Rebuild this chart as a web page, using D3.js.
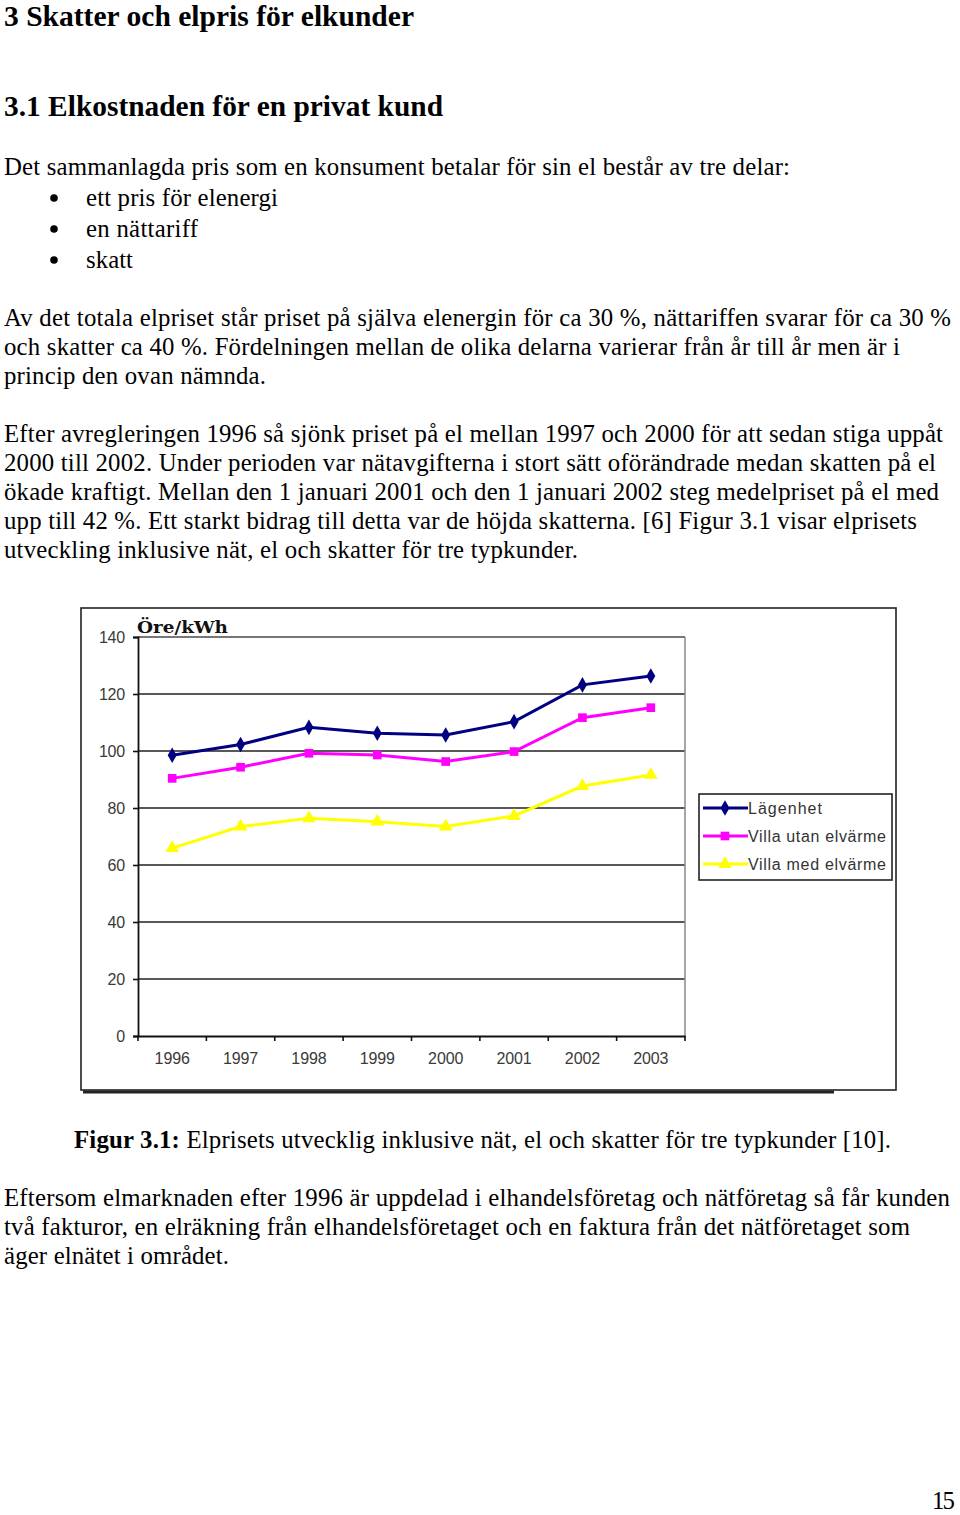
<!DOCTYPE html>
<html><head><meta charset="utf-8">
<script src="https://cdn.jsdelivr.net/npm/d3@7"></script>
<style>body{margin:0;background:#fff}svg{display:block}</style>
</head><body>
<svg id="page" width="960" height="1515"></svg>
<script>
const years = ["1996","1997","1998","1999","2000","2001","2002","2003"];
const lagenhet = [98.5, 102.3, 108.3, 106.2, 105.6, 110.3, 123.2, 126.3];
const villaUtan = [90.4, 94.3, 99.2, 98.6, 96.3, 99.8, 111.7, 115.2];
const villaMed = [65.9, 73.5, 76.4, 75.2, 73.5, 77.2, 87.7, 91.6];
const seriesNames = ["Lägenhet", "Villa utan elvärme", "Villa med elvärme"];
const yTicks = [0, 20, 40, 60, 80, 100, 120, 140];

const svg = d3.select("#page");
const serif = "Liberation Serif";
const sans = "Liberation Sans";

// ---------- page text ----------
function line(x, y, txt, w, opts = {}) {
  const t = svg.append("text").attr("x", x).attr("y", y)
    .attr("font-family", serif).attr("font-size", 20)
    .attr("font-weight", opts.bold ? "bold" : "normal").attr("fill", "#000").text(txt);
  const natural = t.node().getComputedTextLength();
  let size = opts.size || 20 * w / natural;
  t.attr("font-size", size);
  t.attr("textLength", w).attr("lengthAdjust", "spacing");
  return t;
}
const B = 24.8;
line(4, 26, "3 Skatter och elpris för elkunder", 410, {bold: true});
line(4, 116, "3.1 Elkostnaden för en privat kund", 439, {bold: true});
line(4, 175, "Det sammanlagda pris som en konsument betalar för sin el består av tre delar:", 786, {size: B});
[["ett pris för elenergi", 206, 192], ["en nättariff", 237, 112], ["skatt", 268, 47]].forEach(([t, y, w]) => {
  svg.append("circle").attr("cx", 54).attr("cy", y - 8).attr("r", 3.8).attr("fill", "#000");
  line(86, y, t, w, {size: B});
});
line(4, 326, "Av det totala elpriset står priset på själva elenergin för ca 30 %, nättariffen svarar för ca 30 %", 947, {size: B});
line(4, 355, "och skatter ca 40 %. Fördelningen mellan de olika delarna varierar från år till år men är i", 896, {size: B});
line(4, 384, "princip den ovan nämnda.", 262, {size: B});
line(4, 442, "Efter avregleringen 1996 så sjönk priset på el mellan 1997 och 2000 för att sedan stiga uppåt", 939, {size: B});
line(4, 471, "2000 till 2002. Under perioden var nätavgifterna i stort sätt oförändrade medan skatten på el", 932, {size: B});
line(4, 500, "ökade kraftigt. Mellan den 1 januari 2001 och den 1 januari 2002 steg medelpriset på el med", 935, {size: B});
line(4, 529, "upp till 42 %. Ett starkt bidrag till detta var de höjda skatterna. [6] Figur 3.1 visar elprisets", 913, {size: B});
line(4, 558, "utveckling inklusive nät, el och skatter för tre typkunder.", 574, {size: B});

const cap = svg.append("text").attr("x", 74).attr("y", 1148).attr("font-family", serif).attr("font-size", B)
  .attr("textLength", 817).attr("lengthAdjust", "spacing");
cap.append("tspan").attr("font-weight", "bold").text("Figur 3.1:");
cap.append("tspan").text(" Elprisets utvecklig inklusive nät, el och skatter för tre typkunder [10].");

line(4, 1206, "Eftersom elmarknaden efter 1996 är uppdelad i elhandelsföretag och nätföretag så får kunden", 946, {size: B});
line(4, 1235, "två fakturor, en elräkning från elhandelsföretaget och en faktura från det nätföretaget som", 906, {size: B});
line(4, 1264, "äger elnätet i området.", 225, {size: B});
line(932, 1509, "15", 23, {size: B});

// ---------- chart ----------
const frame = {x0: 81, y0: 608, x1: 896, y1: 1090};
svg.append("line").attr("x1", frame.x0 + 2).attr("x2", 834).attr("y1", frame.y1 + 2).attr("y2", frame.y1 + 2)
  .attr("stroke", "#222").attr("stroke-width", 3);
svg.append("rect").attr("x", frame.x0).attr("y", frame.y0).attr("width", frame.x1 - frame.x0).attr("height", frame.y1 - frame.y0)
  .attr("fill", "none").attr("stroke", "#222").attr("stroke-width", 1.6);

const plot = {left: 138, right: 685, top: 637, bottom: 1036};
const x = d3.scaleBand().domain(years).range([plot.left, plot.right]);
const y = d3.scaleLinear().domain([0, 140]).range([plot.bottom, plot.top]);
const g = svg.append("g");

g.selectAll(".grid").data(yTicks.filter(d => d > 0)).join("line")
  .attr("x1", plot.left).attr("x2", plot.right).attr("y1", d => y(d)).attr("y2", d => y(d))
  .attr("stroke", d => d === 140 ? "#777" : "#222").attr("stroke-width", d => d === 140 ? 2.2 : 1.6);
g.append("line").attr("x1", plot.right).attr("x2", plot.right).attr("y1", plot.top).attr("y2", plot.bottom)
  .attr("stroke", "#888").attr("stroke-width", 1.5);

const yAxis = g.append("g").attr("transform", `translate(${plot.left},0)`)
  .call(d3.axisLeft(y).tickValues(yTicks).tickSize(5).tickPadding(8));
yAxis.select(".domain").attr("stroke", "#111").attr("stroke-width", 1.8);
yAxis.selectAll(".tick line").attr("stroke", "#111").attr("stroke-width", 1.6);
yAxis.selectAll(".tick text").attr("font-family", sans).attr("font-size", 16).attr("fill", "#3a3a3a")
  .attr("letter-spacing", -0.2);

const xAxis = g.append("g").attr("transform", `translate(0,${plot.bottom})`)
  .call(d3.axisBottom(x).tickSize(0).tickPadding(17));
xAxis.select(".domain").attr("stroke", "#111").attr("stroke-width", 1.8);
xAxis.selectAll(".tick text").attr("font-family", sans).attr("font-size", 16).attr("fill", "#3a3a3a")
  .attr("letter-spacing", -0.1);
const bounds = years.map(d => x(d)).concat([x(years[years.length - 1]) + x.bandwidth()]);
g.selectAll(".bt").data(bounds).join("line")
  .attr("x1", d => d).attr("x2", d => d).attr("y1", plot.bottom).attr("y2", plot.bottom + 5)
  .attr("stroke", "#111").attr("stroke-width", 1.6);

svg.append("text").attr("x", 137).attr("y", 633).attr("font-family", "DejaVu Serif")
  .attr("font-weight", "bold").attr("font-size", 16.5).attr("fill", "#111")
  .attr("textLength", 91).attr("lengthAdjust", "spacingAndGlyphs").text("Öre/kWh");

const series = [
  {name: seriesNames[0], values: lagenhet, color: "#000080", sym: d3.symbolDiamond, size: 70, lw: 74},
  {name: seriesNames[1], values: villaUtan, color: "#FF00FF", sym: d3.symbolSquare, size: 75, lw: 138},
  {name: seriesNames[2], values: villaMed, color: "#FFFF00", sym: d3.symbolTriangle, size: 80, lw: 138},
];
const cx = d => x(d) + x.bandwidth() / 2;
const lineGen = d3.line().x((d, i) => cx(years[i])).y(d => y(d));
series.forEach(s => {
  g.append("path").attr("d", lineGen(s.values)).attr("fill", "none")
    .attr("stroke", s.color).attr("stroke-width", 3);
  g.selectAll(null).data(s.values).join("path")
    .attr("transform", (d, i) => `translate(${cx(years[i])},${y(d)})`)
    .attr("d", d3.symbol().type(s.sym).size(s.size)).attr("fill", s.color);
});

const lg = svg.append("g");
lg.append("rect").attr("x", 699).attr("y", 794).attr("width", 193).attr("height", 86)
  .attr("fill", "#fff").attr("stroke", "#222").attr("stroke-width", 1.6);
series.forEach((s, i) => {
  const yy = 808 + i * 28;
  lg.append("line").attr("x1", 703).attr("x2", 748).attr("y1", yy).attr("y2", yy)
    .attr("stroke", s.color).attr("stroke-width", 3);
  lg.append("path").attr("transform", `translate(725,${yy})`)
    .attr("d", d3.symbol().type(s.sym).size(s.size)).attr("fill", s.color);
  lg.append("text").attr("x", 748).attr("y", yy + 6).attr("font-family", sans).attr("font-size", 16)
    .attr("fill", "#333").attr("textLength", s.lw).attr("lengthAdjust", "spacing").text(s.name);
});
</script>
</body></html>
